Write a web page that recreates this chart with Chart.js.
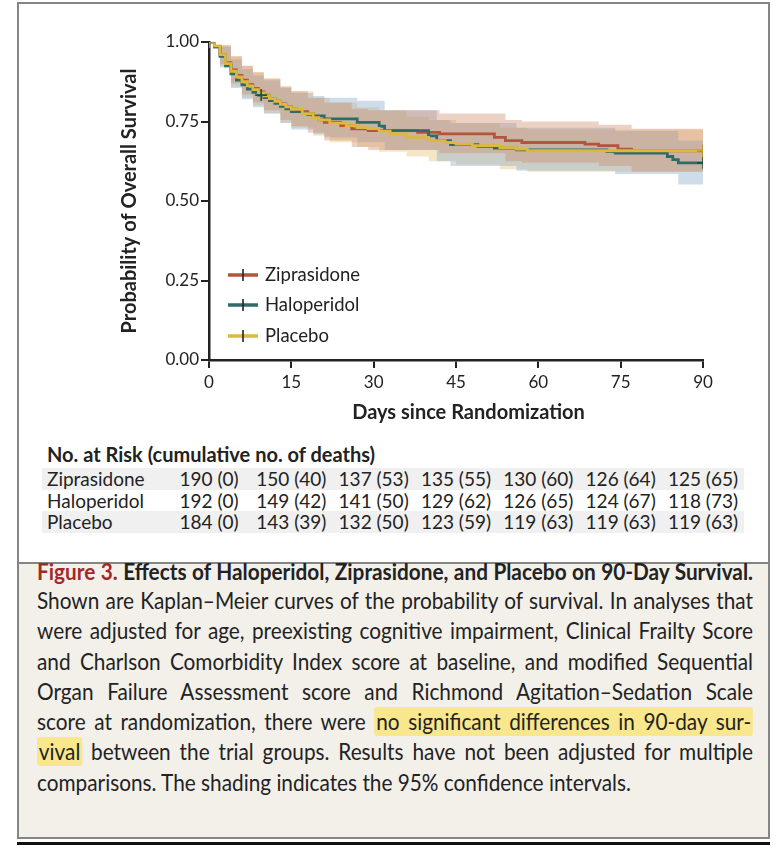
<!DOCTYPE html>
<html>
<head>
<meta charset="utf-8">
<script src="https://cdn.jsdelivr.net/npm/chart.js@4.4.1/dist/chart.umd.min.js"></script>
<style>
  body { margin: 0; background: #fff; font-family: Lato, "Open Sans", sans-serif; color: #222; }
  #marco { position: absolute; left: 17px; top: 2px; width: 753px; height: 837px; box-sizing: border-box; border: 2px solid #858585; background: #fff; }
  #pie { position: absolute; left: 0; top: 558px; width: 749px; height: 275px; box-sizing: border-box; background: #f3f0ea; border-top: 2px solid #858585; }
  #regla { position: absolute; left: 17px; top: 842px; width: 753px; height: 3px; background: #111; }
  #cajaGrafico { position: absolute; left: 20px; top: 5px; width: 748px; height: 430px; }
  #tituloRiesgo { position: absolute; left: 47px; top: 442px; font-size: 20px; font-weight: bold; line-height: 24px; white-space: nowrap; }
  .franja { position: absolute; left: 42px; width: 702px; height: 21.5px; }
  .etiqueta { position: absolute; left: 47px; font-size: 19px; line-height: 21.5px; white-space: nowrap; }
  .celda { position: absolute; font-size: 19px; line-height: 21.5px; white-space: nowrap; transform: translateX(-50%); }
  #texto { position: absolute; left: 37px; top: 558px; width: 716px; transform-origin: 0 0; font-size: 22.5px; }
  #texto .linea { display: block; text-align: justify; text-align-last: justify; line-height: 30.3px; }
  #texto .titulo { font-weight: bold; line-height: 28px; }
  #texto .ultima { text-align-last: left; }
  .rojo { color: #a3282b; }
  mark { background: #f8e78c; color: inherit; padding: 1px 2px; border-radius: 3px; }
</style>
</head>
<body>
<div id="marco"><div id="pie"></div></div>
<div id="regla"></div>
<div id="cajaGrafico"><canvas id="grafico"></canvas></div>
<div id="tituloRiesgo">No. at Risk (cumulative no. of deaths)</div>
<div id="tabla"></div>
<div id="texto">
  <span class="linea titulo"><span class="rojo">Figure 3.</span> Effects of Haloperidol, Ziprasidone, and Placebo on 90-Day Survival.</span>
  <span class="linea">Shown are Kaplan–Meier curves of the probability of survival. In analyses that</span>
  <span class="linea">were adjusted for age, preexisting cognitive impairment, Clinical Frailty Score</span>
  <span class="linea">and Charlson Comorbidity Index score at baseline, and modified Sequential</span>
  <span class="linea">Organ Failure Assessment score and Richmond Agitation–Sedation Scale</span>
  <span class="linea">score at randomization, there were <mark>no significant differences in 90-day sur-</mark></span>
  <span class="linea"><mark>vival</mark> between the trial groups. Results have not been adjusted for multiple</span>
  <span class="linea ultima">comparisons. The shading indicates the 95% confidence intervals.</span>
</div>
<script>
// Datos (días, supervivencia)
const nombres = ['Ziprasidone', 'Haloperidol', 'Placebo'];

const zipDias = [0, 1, 2, 3, 4, 5, 6, 7, 8, 9, 10, 11, 12, 13, 14, 15, 16, 18, 19, 20, 21, 24, 26, 29, 38, 42, 52, 54, 57, 68.5, 71, 74.5, 77, 90];
const zipSurv = [1, 0.985, 0.96, 0.935, 0.912, 0.895, 0.88, 0.866, 0.854, 0.843, 0.833, 0.823, 0.814, 0.805, 0.797, 0.789, 0.781, 0.772, 0.763, 0.755, 0.747, 0.737, 0.727, 0.721, 0.716, 0.711, 0.70, 0.69, 0.684, 0.679, 0.674, 0.663, 0.658, 0.658];

const haloDias = [0, 1, 2, 3, 4, 5, 6, 7, 8, 9, 10, 11, 12, 13, 14, 15, 17, 19, 21, 27, 31, 32, 40, 41.5, 44, 49, 52, 56, 72.5, 74, 83.5, 84.5, 85.5, 90];
const haloSurv = [1, 0.985, 0.955, 0.925, 0.9, 0.88, 0.865, 0.852, 0.842, 0.833, 0.825, 0.816, 0.807, 0.798, 0.79, 0.781, 0.775, 0.768, 0.758, 0.747, 0.735, 0.721, 0.705, 0.69, 0.677, 0.672, 0.666, 0.661, 0.655, 0.651, 0.64, 0.63, 0.62, 0.62];

const placDias = [0, 1, 2, 3, 4, 5, 6, 7, 8, 9, 10, 11, 12, 13, 14, 15, 17, 19, 20, 22, 25, 27, 29, 31, 33, 36, 40, 43, 45, 48, 53, 56, 58, 90];
const placSurv = [1, 0.988, 0.96, 0.932, 0.908, 0.89, 0.875, 0.862, 0.85, 0.84, 0.831, 0.822, 0.813, 0.804, 0.796, 0.788, 0.775, 0.762, 0.755, 0.745, 0.737, 0.731, 0.728, 0.72, 0.711, 0.70, 0.69, 0.684, 0.679, 0.674, 0.668, 0.663, 0.658, 0.658];

// Intervalos de confianza del 95%
const zipBandDias = [0, 2, 4, 6, 8, 10, 13, 15, 18, 21, 26, 29, 42, 54, 57, 71, 77, 90];
const zipBandAlto = [1, 0.99, 0.955, 0.925, 0.905, 0.885, 0.86, 0.845, 0.825, 0.81, 0.79, 0.785, 0.775, 0.755, 0.75, 0.74, 0.727, 0.727];
const zipBandBajo = [1, 0.93, 0.87, 0.835, 0.81, 0.785, 0.755, 0.735, 0.715, 0.69, 0.67, 0.66, 0.65, 0.625, 0.62, 0.61, 0.592, 0.592];

const haloBandDias = [0, 2, 4, 6, 8, 10, 13, 15, 19, 21, 27, 32, 41.5, 44, 56, 74, 85.5, 90];
const haloBandAlto = [1, 0.985, 0.945, 0.915, 0.895, 0.88, 0.855, 0.84, 0.83, 0.825, 0.815, 0.785, 0.755, 0.745, 0.73, 0.72, 0.69, 0.69];
const haloBandBajo = [1, 0.92, 0.855, 0.82, 0.795, 0.775, 0.745, 0.725, 0.71, 0.7, 0.685, 0.66, 0.625, 0.61, 0.595, 0.585, 0.552, 0.552];

const placBandDias = [0, 2, 4, 6, 8, 10, 13, 15, 19, 22, 27, 31, 36, 40, 45, 53, 58, 90];
const placBandAlto = [1, 0.99, 0.955, 0.925, 0.905, 0.885, 0.86, 0.845, 0.825, 0.81, 0.795, 0.785, 0.765, 0.755, 0.745, 0.73, 0.725, 0.725];
const placBandBajo = [1, 0.925, 0.86, 0.825, 0.8, 0.775, 0.745, 0.73, 0.705, 0.685, 0.67, 0.655, 0.64, 0.625, 0.615, 0.6, 0.592, 0.592];

// Marcas de censura (+)
const censZipDias = [90];
const censZipSurv = [0.658];
const censHaloDias = [0, 9.5, 90];
const censHaloSurv = [1, 0.833, 0.62];
const censPlacDias = [0, 90];
const censPlacSurv = [1, 0.658];

// Tabla de pacientes en riesgo
const diasRiesgo = [0, 15, 30, 45, 60, 75, 90];
const riesgoZip = [190, 150, 137, 135, 130, 126, 125];
const muertesZip = [0, 40, 53, 55, 60, 64, 65];
const riesgoHalo = [192, 149, 141, 129, 126, 124, 118];
const muertesHalo = [0, 42, 50, 62, 65, 67, 73];
const riesgoPlac = [184, 143, 132, 123, 119, 119, 119];
const muertesPlac = [0, 39, 50, 59, 63, 63, 63];

const ticksX = [0, 15, 30, 45, 60, 75, 90];
const ticksY = [0, 0.25, 0.5, 0.75, 1];

const colores = ['#b5533c', '#2f6b69', '#dbb93d'];
const rellenos = ['rgba(208,140,110,0.40)', 'rgba(135,170,205,0.40)', 'rgba(230,195,110,0.40)'];

function puntos(xs, ys) {
    return xs.map((x, i) => ({ x: x, y: ys[i] }));
}

function banda(xs, alto, bajo, color) {
    return [
        { data: puntos(xs, alto), stepped: true, borderWidth: 0, pointRadius: 0, backgroundColor: color, fill: '+1', order: 10 },
        { data: puntos(xs, bajo), stepped: true, borderWidth: 0, pointRadius: 0, backgroundColor: color, fill: false, order: 10 }
    ];
}

function curva(xs, ys, color, orden) {
    return { data: puntos(xs, ys), stepped: true, borderColor: color, borderWidth: 2.8, pointRadius: 0, fill: false, order: orden };
}

function censura(xs, ys, color, orden) {
    return { type: 'scatter', data: puntos(xs, ys), pointStyle: 'cross', pointRadius: 6, borderColor: color, borderWidth: 1.6, order: orden };
}

const datasets = [
    ...banda(zipBandDias, zipBandAlto, zipBandBajo, rellenos[0]),
    ...banda(haloBandDias, haloBandAlto, haloBandBajo, rellenos[1]),
    ...banda(placBandDias, placBandAlto, placBandBajo, rellenos[2]),
    curva(zipDias, zipSurv, colores[0], 3),
    curva(haloDias, haloSurv, colores[1], 2),
    curva(placDias, placSurv, colores[2], 1),
    censura(censZipDias, censZipSurv, '#8a3a28', 0.5),
    censura(censHaloDias, censHaloSurv, '#1f4f4d', 0.2),
    censura(censPlacDias, censPlacSurv, '#c9a42a', 0)
];

// Leyenda dentro del área del gráfico
const leyenda = {
    id: 'leyenda',
    afterDatasetsDraw(chart) {
        const ctx = chart.ctx;
        const a = chart.chartArea;
        const filasY = [233, 263, 294];
        ctx.save();
        nombres.forEach((n, i) => {
            const y = a.top + filasY[i];
            ctx.strokeStyle = colores[i];
            ctx.lineWidth = 3.5;
            ctx.beginPath();
            ctx.moveTo(a.left + 19, y);
            ctx.lineTo(a.left + 49, y);
            ctx.stroke();
            ctx.strokeStyle = '#222';
            ctx.lineWidth = 1.6;
            ctx.beginPath();
            ctx.moveTo(a.left + 34, y - 6);
            ctx.lineTo(a.left + 34, y + 6);
            ctx.stroke();
            ctx.fillStyle = '#222';
            ctx.font = '18.5px Lato';
            ctx.textBaseline = 'middle';
            ctx.fillText(n, a.left + 56, y);
        });
        ctx.restore();
    }
};

const fuenteTick = { family: 'Lato', size: 17 };
const fuenteTitulo = { family: 'Lato', size: 20, weight: 'bold' };

const grafico = new Chart(document.getElementById('grafico'), {
    type: 'line',
    data: { datasets: datasets },
    options: {
        responsive: true,
        maintainAspectRatio: false,
        animation: false,
        layout: { padding: { top: 37, right: 65, left: 0, bottom: 0 } },
        plugins: { legend: { display: false }, tooltip: { enabled: false } },
        scales: {
            x: {
                type: 'linear', min: 0, max: 90,
                afterBuildTicks: s => { s.ticks = ticksX.map(v => ({ value: v })); },
                afterFit: s => { s.height = 75; },
                ticks: { color: '#222', font: fuenteTick, padding: 4 },
                grid: { drawOnChartArea: false, drawTicks: true, tickLength: 8, color: '#222', lineWidth: 2 },
                border: { display: true, color: '#222', width: 2.5 },
                title: { display: true, text: '\u2003\u2002Days since Randomization', color: '#222', font: fuenteTitulo, padding: { top: 0, bottom: 10 } }
            },
            y: {
                type: 'linear', min: 0, max: 1,
                afterBuildTicks: s => { s.ticks = ticksY.map(v => ({ value: v })); },
                afterFit: s => { s.width = 189; },
                ticks: { color: '#222', font: fuenteTick, padding: 2, callback: v => v.toFixed(2) },
                grid: { drawOnChartArea: false, drawTicks: true, tickLength: 8, color: '#222', lineWidth: 2 },
                border: { display: true, color: '#222', width: 2.5 },
                title: { display: true, text: 'Probability of Overall Survival', color: '#222', font: fuenteTitulo, padding: { top: 98, bottom: 0 } }
            }
        }
    },
    plugins: [leyenda]
});

// Filas de la tabla alineadas con las marcas del eje x
const filas = [
    { nombre: 'Ziprasidone', riesgo: riesgoZip, muertes: muertesZip, fondo: '#f0f0f0' },
    { nombre: 'Haloperidol', riesgo: riesgoHalo, muertes: muertesHalo, fondo: '#ffffff' },
    { nombre: 'Placebo', riesgo: riesgoPlac, muertes: muertesPlac, fondo: '#f0f0f0' }
];
const tabla = document.getElementById('tabla');
const escalaX = grafico.scales.x;
filas.forEach((fila, i) => {
    const top = 468 + i * 21.5;
    const franja = document.createElement('div');
    franja.className = 'franja';
    franja.style.top = top + 'px';
    franja.style.background = fila.fondo;
    tabla.appendChild(franja);
    const etiqueta = document.createElement('div');
    etiqueta.className = 'etiqueta';
    etiqueta.style.top = top + 'px';
    etiqueta.textContent = fila.nombre;
    tabla.appendChild(etiqueta);
    diasRiesgo.forEach((d, j) => {
        const celda = document.createElement('div');
        celda.className = 'celda';
        celda.style.top = top + 'px';
        celda.style.left = (20 + escalaX.getPixelForValue(d)) + 'px';
        celda.textContent = fila.riesgo[j] + ' (' + fila.muertes[j] + ')';
        tabla.appendChild(celda);
    });
});

// Ajustar el ancho del pie: la línea más larga define la compresión
const texto = document.getElementById('texto');
const lineas = texto.querySelectorAll('.linea');
let maxAncho = 0;
lineas.forEach(l => {
    l.style.display = 'inline-block';
    l.style.whiteSpace = 'nowrap';
    maxAncho = Math.max(maxAncho, l.getBoundingClientRect().width);
});
lineas.forEach(l => {
    l.style.display = '';
    l.style.whiteSpace = '';
});
const escala = Math.min(1, 712 / maxAncho);
texto.style.width = (716 / escala) + 'px';
texto.style.transform = 'scaleX(' + escala + ')';
</script>
</body>
</html>
